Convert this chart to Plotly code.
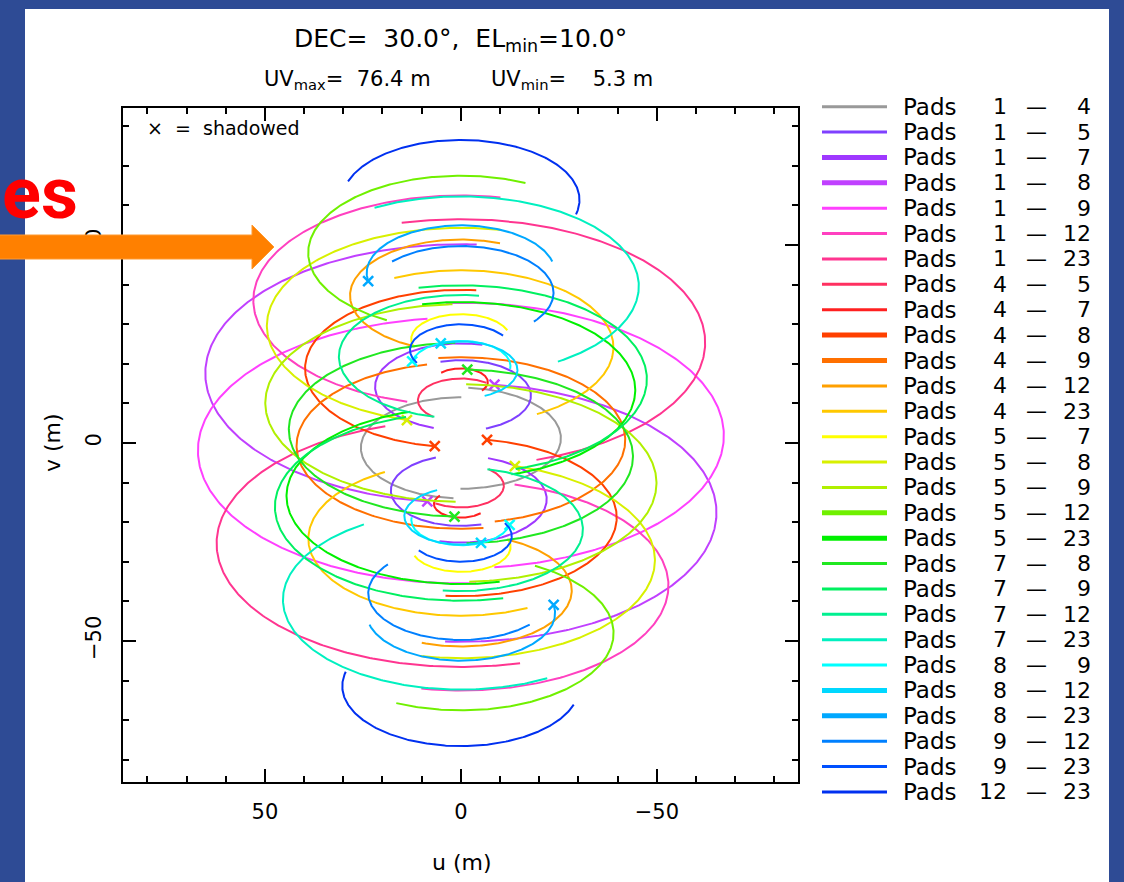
import numpy as np
import plotly.graph_objects as go

W, H = 1124, 882
PL, PR, PT, PB = 123, 798, 108, 782          # plot frame in page pixels

DEC_DEG = 30.0
HA_LIMIT_DEG = 88.0

# pad positions (equatorial frame, metres), pad 1 as reference
pad_names = ["1", "4", "5", "7", "8", "9", "12", "23"]
pad_x = [0.0, 1.0, -5.8, 6.2, 6.3, -6.2, 11.9, -17.2]
pad_y = [0.0, -25.5, -16.9, -21.0, -64.9, -66.8, -51.6, -59.9]
pad_z = [0.0, 1.39, 13.86, -16.4, -20.3, 2.19, -41.6, 29.3]

# baselines in legend order
base_a = ["1", "1", "1", "1", "1", "1", "1", "4", "4", "4", "4", "4", "4", "5",
          "5", "5", "5", "5", "7", "7", "7", "7", "8", "8", "8", "9", "9", "12"]
base_b = ["4", "5", "7", "8", "9", "12", "23", "5", "7", "8", "9", "12", "23", "7",
          "8", "9", "12", "23", "8", "9", "12", "23", "9", "12", "23", "12", "23", "23"]

# hour-angle coverage of each track (deg); pad 8 is shadowed at the start
ha_lo = [-HA_LIMIT_DEG] * 28
ha_hi = [HA_LIMIT_DEG] * 28
shadowed_pad = "8"
shadow_lo = [shadowed_pad in (a, b) for a, b in zip(base_a, base_b)]
shadow_hi = [False] * 28

colors = ["#999999", "#7f40ff", "#9f38ff", "#c040ff", "#ff40ff", "#ff40c0", "#ff3590",
          "#ff3060", "#ff2020", "#ff4000", "#ff7000", "#ffa000", "#ffc800", "#ffff00",
          "#d8f000", "#b0f000", "#70f000", "#00f000", "#20e820", "#00f060", "#00f090",
          "#00f0c0", "#00ffff", "#00d8ff", "#00a8ff", "#0080ff", "#0050ff", "#0030f0"]
thick = [False, False, True, True, False, False, False, False, False, True, True, False,
         False, False, False, False, True, True, False, False, False, False, False, True,
         True, False, False, False]

U_RANGE = [86.2, -86.0]
V_RANGE = [-85.6, 84.6]


def px(x):
    return (x - PL) / (PR - PL)


def py(y):
    return 1 - (y - PT) / (PB - PT)


dec = np.radians(DEC_DEG)
fig = go.Figure()

for k in range(len(base_a)):
    i = pad_names.index(base_a[k])
    j = pad_names.index(base_b[k])
    lx = pad_x[j] - pad_x[i]
    ly = pad_y[j] - pad_y[i]
    lz = pad_z[j] - pad_z[i]
    h = np.radians(np.linspace(ha_lo[k], ha_hi[k], 241))
    u = lx * np.sin(h) + ly * np.cos(h)
    v = np.sin(dec) * (-lx * np.cos(h) + ly * np.sin(h)) + lz * np.cos(dec)
    xs = list(u) + [None] + list(-u)
    ys = list(v) + [None] + list(-v)
    fig.add_trace(go.Scatter(x=xs, y=ys, mode="lines",
                             line=dict(color=colors[k], width=2),
                             showlegend=False, hoverinfo="skip"))
    mx, my = [], []
    if shadow_lo[k]:
        mx += [u[0], -u[0]]
        my += [v[0], -v[0]]
    if shadow_hi[k]:
        mx += [u[-1], -u[-1]]
        my += [v[-1], -v[-1]]
    if mx:
        fig.add_trace(go.Scatter(x=mx, y=my, mode="markers",
                                 marker=dict(symbol="x-thin", size=10, color=colors[k],
                                             line=dict(color=colors[k], width=2.5)),
                                 showlegend=False, hoverinfo="skip"))

axis_common = dict(showgrid=False, zeroline=False, showline=True, linecolor="black",
                   linewidth=2, mirror="ticks", ticks="inside", ticklen=13, tickwidth=2,
                   tickcolor="black", dtick=50,
                   minor=dict(ticks="inside", ticklen=6, tickwidth=2, tickcolor="black", dtick=10),
                   tickfont=dict(family="DejaVu Sans", size=21, color="black"))

fig.update_xaxes(range=U_RANGE, tick0=0, ticklabelstandoff=10, **axis_common)
fig.update_yaxes(range=V_RANGE, tick0=0, tickangle=-90, ticklabelstandoff=12, **axis_common)

shapes = []
# white slide area over the blue slide background
shapes.append(dict(type="rect", xref="paper", yref="paper", x0=px(25), x1=px(1109),
                   y0=py(9), y1=py(H + 5), fillcolor="white", line=dict(width=0), layer="below"))

annotations = []
TXT = dict(family="DejaVu Sans", color="black")
LEG_SIZE = 21


def note(text, x, y, size, anchor="left", angle=0, font=None):
    annotations.append(dict(text=text, x=px(x), y=py(y), xref="paper", yref="paper",
                            xanchor=anchor, yanchor="middle", showarrow=False, textangle=angle,
                            font=font if font else dict(size=size, **TXT)))


# legend (manual, page-pixel layout)
for k in range(len(base_a)):
    yc = 106.7 + 25.38 * k
    shapes.append(dict(type="line", xref="paper", yref="paper", x0=px(822), x1=px(887),
                       y0=py(yc), y1=py(yc),
                       line=dict(color=colors[k], width=5 if thick[k] else 3)))
    note("Pads", 901, yc, LEG_SIZE + 2)
    note(base_a[k], 1009, yc, LEG_SIZE + 1, anchor="right")
    note("\u2014", 1036, yc, LEG_SIZE, anchor="center")
    note(base_b[k], 1093, yc, LEG_SIZE + 1, anchor="right")

# titles
note("DEC=\u00a0\u00a030.0\u00b0,\u00a0\u00a0EL<sub>min</sub>=10.0\u00b0", 292, 40, 25)
note("UV<sub>max</sub>=\u00a0\u00a076.4\u00a0m", 262, 80, 21)
note("UV<sub>min</sub>=\u00a0\u00a0\u00a0\u00a05.3\u00a0m", 489, 80, 21)
note("\u00d7\u00a0\u00a0=\u00a0\u00a0shadowed", 145, 128, 19)
note("u (m)", 462, 862, 22, anchor="center")
note("v (m)", 52, 443, 22, anchor="center", angle=-90)

# slide overlay: red word fragment and orange arrow
note("<b>es</b>", 0, 193, 72, font=dict(family="Roboto", size=72, color="#ff0000"))
arrow_pts = [(-5, 235), (252, 235), (252, 225), (274, 247), (252, 269), (252, 259), (-5, 259)]
path = "M " + " L ".join(f"{px(a):.5f},{py(b):.5f}" for a, b in arrow_pts) + " Z"
shapes.append(dict(type="path", xref="paper", yref="paper", path=path,
                   fillcolor="#ff8000", line=dict(color="#ff9a30", width=1), layer="above"))

fig.update_layout(width=W, height=H, autosize=False,
                  margin=dict(l=PL, r=W - PR, t=PT, b=H - PB, pad=0),
                  paper_bgcolor="#2e4b95", plot_bgcolor="white",
                  shapes=shapes, annotations=annotations, showlegend=False)

fig.write_html("out.html")
